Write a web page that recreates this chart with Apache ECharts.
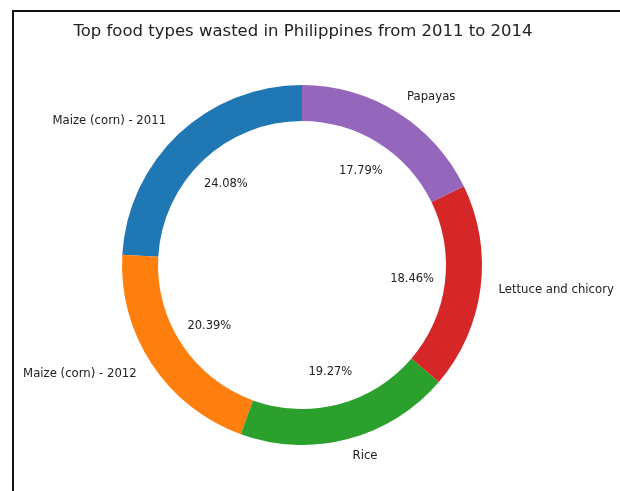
<!DOCTYPE html>
<html>
<head>
<meta charset="utf-8">
<script src="https://cdn.jsdelivr.net/npm/echarts@6/dist/echarts.min.js"></script>
<style>
  html, body { margin: 0; padding: 0; background: #fff; }
  #chart { width: 620px; height: 491px; }
</style>
</head>
<body>
<div id="chart"></div>
<script>
const foodTypes = ['Maize (corn) - 2011', 'Maize (corn) - 2012', 'Rice', 'Lettuce and chicory', 'Papayas']
const shares = [24.08, 20.39, 19.27, 18.46, 17.79]
const colors = ['#1f77b4', '#ff7f0e', '#2ca02c', '#d62728', '#9467bd']

const font = 'DejaVu Sans'
const center = [302, 265]

const chart = echarts.init(document.getElementById('chart'))

chart.setOption({
  animation: false,
  title: {
    text: 'Top food types wasted in Philippines from 2011 to 2014',
    left: 298,
    top: 18,
    textAlign: 'center',
    textStyle: { fontFamily: font, fontSize: 16.5, fontWeight: 'normal', color: '#222' }
  },
  graphic: [
    // figure frame (cut off at right and bottom)
    { type: 'polyline', shape: { points: [[13, 491], [13, 11], [620, 11]] }, style: { stroke: '#111', lineWidth: 2, fill: null } }
  ],
  series: [
    // ring with outer labels
    {
      type: 'pie',
      center: center,
      radius: [144, 180],
      startAngle: 90,
      clockwise: false,
      avoidLabelOverlap: false,
      silent: true,
      itemStyle: { borderWidth: 0 },
      label: {
        position: 'outside',
        fontFamily: font,
        fontSize: 11.7,
        color: '#222',
        distanceToLabelLine: 0,
        formatter: p => p.name
      },
      labelLine: { show: false, length: 18, length2: 0 },
      data: foodTypes.map((n, i) => ({ name: n, value: shares[i], itemStyle: { color: colors[i] } }))
    },
    // invisible pie carrying the percentage labels at 0.6 radius
    {
      type: 'pie',
      center: center,
      radius: [0, 216],
      startAngle: 90,
      clockwise: false,
      silent: true,
      z: 3,
      itemStyle: { color: 'rgba(0,0,0,0)', borderWidth: 0 },
      label: {
        position: 'inside',
        fontFamily: font,
        fontSize: 11.5,
        color: '#222',
        formatter: p => p.value.toFixed(2) + '%'
      },
      labelLine: { show: false },
      data: foodTypes.map((n, i) => ({ name: n, value: shares[i] }))
    }
  ]
})
</script>
</body>
</html>
